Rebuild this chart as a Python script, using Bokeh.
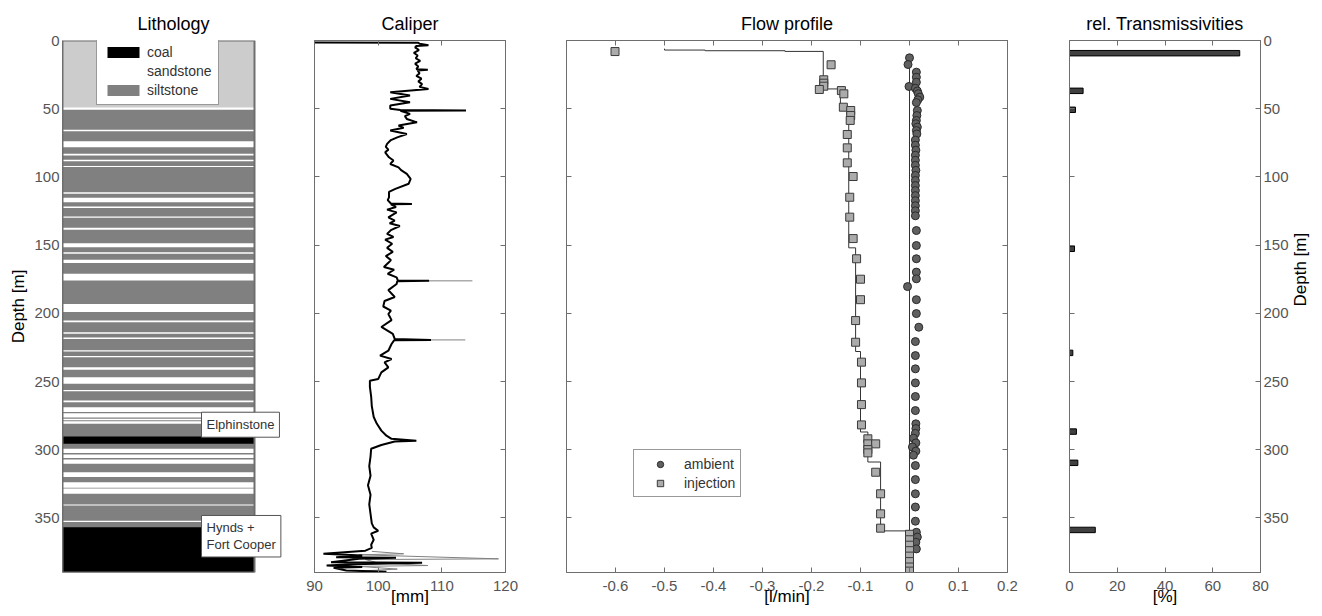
import math
import numpy as np
from bokeh.plotting import figure
from bokeh.models import Range1d, LinearAxis, FixedTicker, Label, Legend, LegendItem
from bokeh.layouts import row
from bokeh.embed import file_html
from bokeh.resources import INLINE

# ---------------- data ----------------
depth_ticks = [0, 50, 100, 150, 200, 250, 300, 350]

# Lithology (depth intervals, m)
unlogged_top = [0.0]
unlogged_bot = [49.0]
silt_top = [49.0]
silt_bot = [390.0]
sand_top = [48.9, 65.5, 73.8, 83.1, 87.5, 92.0, 111.2, 115.3, 121.7, 129.0, 137.3, 148.6,
            155.2, 160.8, 171.0, 193.1, 205.3, 213.8, 217.8, 227.0, 231.3, 239.5, 246.8,
            256.2, 264.0, 268.8, 273.2, 277.2, 279.2, 299.2, 303.5, 307.2, 316.5, 323.8,
            328.5, 340.2, 352.1]
sand_bot = [50.8, 66.5, 78.2, 84.3, 88.5, 92.8, 112.4, 118.5, 122.7, 130.0, 138.8, 151.5,
            156.4, 163.2, 175.9, 199.1, 206.5, 215.0, 218.8, 228.0, 232.2, 241.4, 251.7,
            257.2, 265.2, 272.3, 276.3, 278.4, 281.0, 302.4, 306.0, 310.3, 320.0, 327.8,
            332.3, 340.9, 353.0]
coal_top = [290.3, 356.8]
coal_bot = [295.7, 390.0]
borehole_top = [0.0]
borehole_bot = [390.0]

# Caliper log (depth m, diameter mm)
caliper_log = [
    (1.5, 90.0), (1.6, 106.3), (2.4, 106.5), (3.5, 107.9), (4.0, 106.0), (5.0, 105.8),
    (7.0, 106.4), (9.0, 105.6), (11.0, 106.2), (13.0, 105.9), (15.0, 106.6), (17.0, 105.8),
    (19.0, 106.3), (21.0, 106.0), (21.5, 107.8), (22.0, 106.2), (24.0, 106.5), (26.0, 106.0),
    (28.0, 106.8), (30.0, 106.3), (32.0, 106.9), (34.0, 106.5), (35.5, 107.9), (37.9, 101.9),
    (40.3, 105.0), (42.8, 101.9), (45.2, 105.0), (47.7, 101.9), (50.1, 101.9), (51.0, 103.5),
    (51.3, 113.8), (51.5, 103.5), (53.8, 105.0), (55.5, 104.2), (57.5, 104.5), (60.0, 106.1),
    (62.3, 103.2), (64.0, 104.0), (66.0, 101.9), (68.5, 104.5), (71.0, 103.0), (73.0, 102.0),
    (75.8, 101.4), (78.0, 101.2), (80.0, 101.6), (82.0, 101.1), (85.6, 101.7), (88.0, 102.4),
    (90.5, 101.9), (93.0, 103.2), (95.0, 103.6), (97.8, 104.5), (101.5, 105.1), (105.0, 104.8),
    (108.8, 102.7), (111.0, 101.7), (115.0, 101.7), (117.0, 101.5), (119.5, 102.0), (119.8, 105.3),
    (120.1, 102.0), (122.0, 102.8), (124.0, 101.4), (126.0, 102.9), (129.6, 101.6), (132.0, 102.6),
    (134.0, 101.8), (136.0, 103.4), (139.0, 102.0), (141.8, 101.4), (144.0, 102.4), (146.0, 101.1),
    (149.0, 102.2), (152.0, 101.4), (155.0, 102.3), (158.0, 101.2), (161.0, 102.0), (163.0, 101.6),
    (166.0, 100.9), (168.0, 102.5), (171.0, 101.5), (173.6, 102.9), (176.0, 103.1), (176.2, 108.0),
    (176.4, 103.0), (178.5, 102.9), (183.0, 101.6), (188.0, 102.6), (191.0, 101.0), (195.0, 100.8),
    (198.0, 102.0), (200.5, 101.6), (205.0, 102.1), (210.0, 100.5), (215.0, 102.3), (218.8, 102.6),
    (219.5, 108.3), (219.8, 102.5), (222.5, 102.1), (227.4, 101.6), (231.0, 100.3), (233.5, 102.1),
    (236.0, 101.0), (239.6, 101.6), (243.3, 100.5), (248.2, 100.0), (249.4, 98.7), (254.0, 98.7),
    (261.0, 98.9), (268.0, 99.0), (276.0, 99.3), (281.0, 99.8), (286.0, 100.5), (289.7, 101.3),
    (292.0, 102.1), (293.4, 106.0), (294.0, 102.6), (296.5, 100.5), (299.3, 98.9), (305.0, 98.8),
    (312.0, 98.6), (319.0, 98.8), (326.0, 98.4), (333.0, 98.8), (340.0, 98.6), (347.0, 98.8),
    (354.0, 99.0), (356.9, 99.3), (359.4, 100.0), (361.5, 98.9), (366.0, 99.3), (369.7, 98.9),
    (372.0, 99.0), (374.0, 98.0), (376.3, 91.4), (377.5, 97.5), (378.8, 93.4), (379.2, 102.8),
    (380.0, 97.0), (382.5, 92.6), (382.8, 106.9), (384.0, 96.0), (384.9, 91.9), (386.0, 97.5),
    (386.6, 93.0), (388.6, 95.0), (389.5, 101.3), (390.0, 96.6),
]
# second (grey) caliper trace, shown only where it departs from the black one
caliper2_depth = [176.2, 176.2, np.nan, 219.5, 219.5, np.nan, 374.5, 376.3, 377.0, 380.0, 380.5,
                  383.0, 384.9, 385.5, 387.5, 389.0]
caliper2_mm = [108.0, 114.8, np.nan, 108.3, 113.7, np.nan, 99.0, 104.0, 97.0, 118.9, 98.0,
               100.0, 107.8, 97.0, 103.0, 97.0]

# Flow profile - measured points
inj_depth = [8.1, 17.8, 28.8, 31.3, 33.5, 35.9, 36.7, 39.1, 48.9, 51.3, 55.0, 58.6, 68.9, 78.7,
             89.7, 99.7, 114.9, 129.5, 145.2, 160.0, 175.0, 190.0, 205.3, 221.2, 235.8, 251.0,
             266.9, 281.8, 292.0, 295.7, 295.7, 299.9, 302.3, 316.5, 332.3, 347.0, 357.5, 362.0,
             366.0, 370.0, 374.0, 378.0, 382.0, 386.0, 389.0]
inj_q = [-0.601, -0.160, -0.175, -0.175, -0.175, -0.184, -0.139, -0.134, -0.135, -0.120, -0.120,
         -0.121, -0.127, -0.127, -0.127, -0.115, -0.122, -0.122, -0.115, -0.108, -0.100, -0.100,
         -0.110, -0.110, -0.098, -0.098, -0.098, -0.098, -0.085, -0.085, -0.069, -0.085, -0.085,
         -0.069, -0.059, -0.059, -0.059, 0.0, 0.0, 0.0, 0.0, 0.0, 0.0, 0.0, 0.0]
amb_depth = [12.7, 17.6, 23.2, 26.9, 30.6, 33.7, 35.0, 37.0, 39.0, 41.5, 43.5, 45.5, 51.3, 55.0,
             58.6, 61.0, 63.5, 66.0, 68.5, 73.0, 76.7, 80.4, 84.1, 87.8, 91.5, 95.2, 98.9, 102.6,
             106.3, 110.0, 113.7, 117.4, 121.1, 124.8, 128.5, 139.3, 150.3, 160.0, 169.8, 174.7,
             180.4, 190.0, 200.2, 210.2, 220.7, 231.0, 240.7, 251.0, 261.0, 271.3, 281.0, 284.5,
             288.0, 291.5, 295.0, 298.0, 301.0, 304.0, 311.6, 321.9, 332.3, 342.0, 352.4, 360.5,
             364.0, 367.8, 372.7]
amb_q = [0.0, -0.003, 0.014, 0.014, 0.014, -0.001, 0.012, 0.016, 0.018, 0.021, 0.017, 0.014,
         0.016, 0.015, 0.014, 0.013, 0.016, 0.014, 0.015, 0.012, 0.012, 0.013, 0.012, 0.012,
         0.012, 0.013, 0.012, 0.012, 0.012, 0.012, 0.012, 0.012, 0.012, 0.012, 0.012, 0.014,
         0.014, 0.014, 0.014, 0.014, -0.004, 0.014, 0.014, 0.019, 0.012, 0.012, 0.012, 0.012,
         0.012, 0.012, 0.013, 0.013, 0.012, 0.008, 0.013, 0.006, 0.013, 0.008, 0.012, 0.012,
         0.012, 0.012, 0.012, 0.014, 0.016, 0.013, 0.014]
# Flow profile - fitted model (piecewise constant)
inj_model_top = [6.0, 7.0, 7.5, 8.0, 35.5, 50.0, 152.0, 228.0, 287.0, 309.0, 359.5]
inj_model_bot = [7.0, 7.5, 8.0, 35.5, 50.0, 152.0, 228.0, 287.0, 309.0, 359.5, 390.0]
inj_model_q = [-0.5, -0.417, -0.254, -0.176, -0.141, -0.124, -0.110, -0.100, -0.085, -0.059, 0.0]
amb_model_top = [12.0]
amb_model_bot = [390.0]
amb_model_q = [0.0]
flow_ticks = [-0.6, -0.5, -0.4, -0.3, -0.2, -0.1, 0.0, 0.1, 0.2]
flow_tick_labels = ["-0.6", "-0.5", "-0.4", "-0.3", "-0.2", "-0.1", "0", "0.1", "0.2"]

# Relative transmissivities
trans_depth = [9.3, 36.9, 50.8, 152.7, 229.0, 286.7, 309.6, 358.8]
trans_pct = [71.3, 5.7, 2.5, 2.1, 1.4, 2.9, 3.5, 10.8]

# ---------------- style ----------------
FONT = "Liberation Sans"
AX = "#6e6e6e"
TICKC = "#555555"
FRAME_H = 532


def step_profile(tops, bots, qs):
    xs, ys = [], []
    for t, b, q in zip(tops, bots, qs):
        xs += [q, q]
        ys += [t, b]
    return xs, ys


def style_axis(ax, ticks, labels=True, tick_in=5, overrides=None):
    ax.ticker = FixedTicker(ticks=ticks, minor_ticks=[])
    ax.axis_line_color = AX
    ax.major_tick_line_color = AX if tick_in > 0 else None
    ax.major_tick_in = tick_in
    ax.major_tick_out = 0
    ax.minor_tick_line_color = None
    ax.major_label_text_font = FONT
    ax.axis_label_text_font = FONT
    ax.axis_label_text_font_size = "17px"
    ax.axis_label_text_font_style = "normal"
    ax.axis_label_text_color = "black"
    if labels:
        ax.major_label_text_color = TICKC
        ax.major_label_text_font_size = "15px"
        ax.major_label_standoff = 3
    else:
        ax.major_label_text_color = None
        ax.major_label_text_font_size = "1px"
        ax.major_label_standoff = 0
    if overrides:
        ax.major_label_overrides = overrides


def base_fig(title, frame_w, xr, bl, br, y_loc="left"):
    p = figure(title=title, frame_width=frame_w, frame_height=FRAME_H,
               x_range=xr, y_range=Range1d(390, 0), y_axis_location=y_loc,
               output_backend="svg", toolbar_location=None,
               min_border_left=bl, min_border_right=br, min_border_top=40, min_border_bottom=42,
               background_fill_color="white", border_fill_color="white")
    p.xgrid.visible = False
    p.ygrid.visible = False
    p.outline_line_color = AX
    p.outline_line_width = 1
    p.title.align = "center"
    p.title.text_font = FONT
    p.title.text_font_size = "18px"
    p.title.text_font_style = "normal"
    p.title.text_color = "black"
    p.title.standoff = 14
    return p


def bottom_label(ax, text):
    ax.major_label_standoff = 8
    ax.axis_label = text
    ax.axis_label_standoff = -7


# ---------------- Lithology ----------------
# frame extends a little right of the log column so the formation boxes are not clipped
p1 = base_fig("Lithology", 222, Range1d(0, 222 / 192), 62, 0)
p1.outline_line_color = None
p1.quad(left=0, right=1, top=unlogged_top, bottom=unlogged_bot, fill_color="#cccccc", line_color=None)
silt_r = p1.quad(left=0, right=1, top=silt_top, bottom=silt_bot, fill_color="#808080", line_color=None)
sand_r = p1.quad(left=0, right=1, top=sand_top, bottom=sand_bot, fill_color="white", line_color=None)
coal_r = p1.quad(left=0, right=1, top=coal_top, bottom=coal_bot, fill_color="black", line_color=None)
p1.quad(left=0, right=1, top=borehole_top, bottom=borehole_bot, fill_color=None,
        line_color=AX, line_width=2)
p1.xaxis.visible = False
style_axis(p1.yaxis[0], depth_ticks, labels=True, tick_in=0)
p1.yaxis[0].axis_label = "Depth [m]"
p1.yaxis[0].axis_label_standoff = 3
leg1 = Legend(items=[LegendItem(label="coal", renderers=[coal_r]),
                     LegendItem(label="sandstone", renderers=[sand_r]),
                     LegendItem(label="siltstone", renderers=[silt_r])],
              location=(34, 467), margin=0, padding=6, spacing=3,
              glyph_width=40, glyph_height=14, label_height=16, label_standoff=4,
              label_text_font=FONT, label_text_font_size="14px", label_text_color="#333333",
              border_line_color="#333333", border_line_width=1, background_fill_alpha=1.0)
p1.add_layout(leg1)
for txt, yv in [("Elphinstone", 272.5), ("Hynds +\nFort Cooper", 348.2)]:
    p1.add_layout(Label(x=0.724, y=yv, text=txt, text_align="left", text_baseline="top",
                        text_font=FONT, text_font_size="13px", text_color="#333333",
                        background_fill_color="white", border_line_color="#555555",
                        border_line_width=1, padding=5, text_line_height=1.1))

# ---------------- Caliper ----------------
p2 = base_fig("Caliper", 191, Range1d(90, 120), 30, 30)
cal_depth = [d for d, _ in caliper_log]
cal_mm = [v for _, v in caliper_log]
p2.line(caliper2_mm, caliper2_depth, line_color="#808080", line_width=1)
p2.line(cal_mm, cal_depth, line_color="black", line_width=2.0)
style_axis(p2.xaxis[0], [90, 100, 110, 120])
bottom_label(p2.xaxis[0], "[mm]")
style_axis(p2.yaxis[0], depth_ticks, labels=False)
p2.add_layout(LinearAxis(), "above")
style_axis(p2.above[-1], [100, 110], labels=False)
p2.add_layout(LinearAxis(), "right")
style_axis(p2.right[-1], depth_ticks, labels=False)

# ---------------- Flow profile ----------------
p3 = base_fig("Flow profile", 441, Range1d(-0.7, 0.2), 31, 31)
ix, iy = step_profile(inj_model_top, inj_model_bot, inj_model_q)
ax_, ay_ = step_profile(amb_model_top, amb_model_bot, amb_model_q)
p3.line(ix, iy, line_color="#333333", line_width=1)
p3.line(ax_, ay_, line_color="#333333", line_width=1)
amb_r = p3.scatter(amb_q, amb_depth, marker="circle", size=8, fill_color="#606060",
                   line_color="#2a2a2a", line_width=1)
inj_r = p3.scatter(inj_q, inj_depth, marker="square", size=8, fill_color="#ababab",
                   line_color="#3a3a3a", line_width=1)
style_axis(p3.xaxis[0], flow_ticks, overrides=dict(zip(flow_ticks, flow_tick_labels)))
bottom_label(p3.xaxis[0], "[l/min]")
style_axis(p3.yaxis[0], depth_ticks, labels=False)
p3.add_layout(LinearAxis(), "above")
style_axis(p3.above[-1], flow_ticks, labels=False)
p3.add_layout(LinearAxis(), "right")
style_axis(p3.right[-1], depth_ticks, labels=False)
leg3 = Legend(items=[LegendItem(label="ambient", renderers=[amb_r]),
                     LegendItem(label="injection", renderers=[inj_r])],
              location=(67, 75), margin=0, padding=5, spacing=2,
              glyph_width=42, glyph_height=16, label_height=17, label_standoff=3,
              label_text_font=FONT, label_text_font_size="14px", label_text_color="#333333",
              border_line_color="#333333", border_line_width=1, background_fill_alpha=1.0)
p3.add_layout(leg3)

# ---------------- rel. Transmissivities ----------------
p4 = base_fig("rel. Transmissivities", 191, Range1d(0, 80), 31, 56, y_loc="right")
p4.hbar(y=trans_depth, right=trans_pct, left=0, height=4, fill_color="#404040",
        line_color="black", line_width=1)
style_axis(p4.xaxis[0], [0, 20, 40, 60, 80])
bottom_label(p4.xaxis[0], "[%]")
style_axis(p4.yaxis[0], depth_ticks)
p4.yaxis[0].axis_label = "Depth [m]"
p4.yaxis[0].axis_label_standoff = 9
try:
    p4.yaxis[0].axis_label_orientation = math.pi / 2
except Exception:
    pass
p4.add_layout(LinearAxis(), "above")
style_axis(p4.above[-1], [20, 40, 60], labels=False)
p4.add_layout(LinearAxis(), "left")
style_axis(p4.left[-1], depth_ticks, labels=False)

layout = row(p1, p2, p3, p4, spacing=0)
open("out.html", "w").write(file_html(layout, INLINE))
